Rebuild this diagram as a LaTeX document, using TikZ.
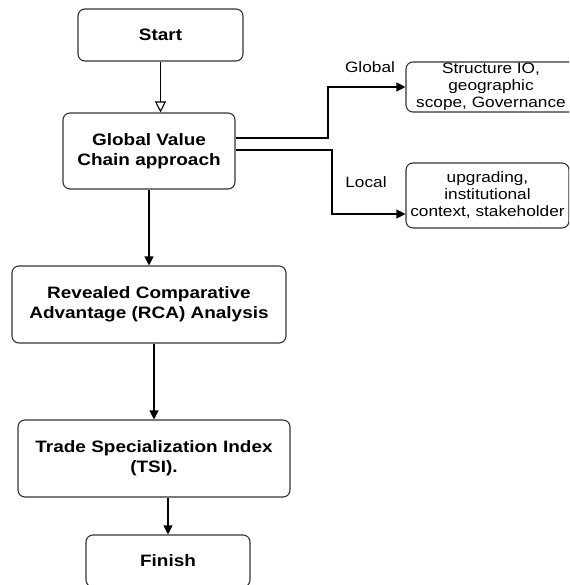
\documentclass[tikz,border=0pt]{standalone}
\usepackage{fontspec}
\setmainfont{Liberation Sans}[FakeStretch=1.15]
\usetikzlibrary{arrows.meta,calc}
\tikzset{
  mainbox/.style={draw=black!80, line width=1.1pt, rounded corners=7pt, align=center,
    font=\fontsize{16.5}{20}\selectfont\bfseries, inner sep=0pt},
  sidebox/.style={draw=black!80, line width=1.1pt, rounded corners=7pt, align=center,
    font=\fontsize{15}{17}\selectfont, inner sep=0pt},
  lbl/.style={font=\fontsize{15}{17}\selectfont, inner sep=0pt},
  conn/.style={draw=black, line width=1.1pt, -{Triangle[length=9pt,width=9pt]}},
  openconn/.style={draw=black, line width=1.1pt, -{Triangle[open,length=11pt,width=11pt,fill=white]}},
}
\begin{document}
\begin{tikzpicture}[x=1pt,y=-1pt]
\useasboundingbox (0,0) rectangle (569,585);
\clip (0,0) rectangle (569,585);
\node[mainbox, minimum width=165pt, minimum height=52pt] (start) at (160.5,35) {Start};
\node[mainbox, minimum width=172pt, minimum height=76pt] (gvc) at (149,151) {Global Value\\Chain approach};
\node[mainbox, minimum width=274pt, minimum height=77pt] (rca) at (149,304.5) {Revealed Comparative\\Advantage (RCA) Analysis};
\node[mainbox, minimum width=272pt, minimum height=77pt] (tsi) at (154,458.5) {Trade Specialization Index\\(TSI).};
\node[mainbox, minimum width=164pt, minimum height=52pt] (fin) at (168,561) {Finish};
\node[sidebox, minimum width=170pt, minimum height=50pt] (glob) at (491,87) {Structure IO,\\geographic\\scope, Governance};
\node[sidebox, minimum width=163pt, minimum height=65pt] (loc) at (487.5,195.5) {upgrading,\\institutional\\context, stakeholder};
\node[lbl] (lglob) at (370,67) {Global};
\node[lbl] (lloc) at (366,182) {Local};
\coordinate (g1) at (gvc.east |- 0,138);
\coordinate (l1) at (gvc.east |- 0,150);
\draw[openconn] (start) -- (gvc.north -| start);
\draw[conn] (gvc.south) -- (rca.north -| gvc);
\draw[conn] (rca.south -| tsi) -- (tsi.north);
\draw[conn] (tsi.south -| fin) -- (fin.north);
\draw[conn] (g1) -- (328,138) -- (328,87) -- (glob.west);
\draw[conn] (l1) -- (332,150) -- (332,214) -- (loc.west |- 0,214);
\end{tikzpicture}
\end{document}
